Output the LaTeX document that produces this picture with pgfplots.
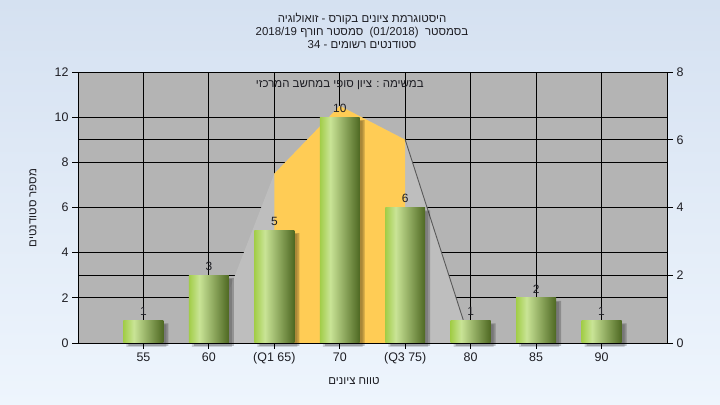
\documentclass[border=0pt]{standalone}
\usepackage{pgfplots}
\pgfplotsset{compat=1.18}
\usepackage{fontspec}
\setmainfont{Liberation Sans}
\newfontfamily\hebfont[Script=Hebrew]{Liberation Sans}
\TeXXeTstate=1
\definecolor{bgtop}{HTML}{D5E1F1}
\definecolor{bgbot}{HTML}{EEF5FD}
\definecolor{plotgray}{HTML}{B4B4B4}
\definecolor{polygray}{HTML}{BEBEBE}
\definecolor{polyyel}{HTML}{FFCC55}
\definecolor{txt}{HTML}{1E1E24}
\definecolor{g1}{HTML}{A2CD48}
\definecolor{g2}{HTML}{C9E496}
\definecolor{g3}{HTML}{4E6822}
\pgfdeclarehorizontalshading{cyl}{100bp}{color(0bp)=(g1); color(25bp)=(g1); color(38bp)=(g2); color(75bp)=(g3); color(100bp)=(g3)}
\pgfplotsset{cylbar/.style={ybar, bar width=0.61, bar shift=0bp, draw=none, shading=cyl},
  shadbar/.style={ybar, bar width=0.61, bar shift=5bp, yshift=-3bp, fill=black, opacity=0.22, draw=none}}
\begin{document}
\begin{tikzpicture}
\shade[top color=bgtop,bottom color=bgbot] (0bp,0bp) rectangle (720bp,405bp);
\node[align=center, font=\fontsize{11.5}{13}\selectfont, text=txt] at (362bp,374bp)
 {{\hebfont\beginR היסטוגרמת ציונים בקורס - זואולוגיה\endR}\\
  2018/19 {\hebfont\beginR סמסטר חורף\endR}\ \ (01/2018)\ \ {\hebfont\beginR בסמסטר\endR}\\
  34 - {\hebfont\beginR סטודנטים רשומים\endR}};
\begin{axis}[
  at={(78bp,62bp)}, anchor=south west, scale only axis,
  width=589bp, height=271bp,
  xmin=-1, xmax=8, ymin=0, ymax=12,
  clip=false,
  axis background/.style={fill=plotgray},
  xtick={0,...,7},
  xticklabels={55,60,(Q1 65),70,(Q3 75),80,85,90},
  ytick={0,2,...,12},
  extra y ticks={3,9}, extra y tick labels={},
  extra y tick style={major tick length=0pt, grid=major},
  grid=major,
  major grid style={black, line width=0.8pt},
  tick align=outside, tick pos=left,
  major tick length=6bp,
  axis line style={black, line width=0.8pt},
  tick style={black, line width=0.8pt},
  /pgf/number format/assume math mode=true,
  ticklabel style={font=\fontsize{12.5}{14}\selectfont, text=txt},
]
\addplot[fill=polygray, draw=none] coordinates {(1,0) (2,7.5) (3,10.5) (4,9) (5,0)} \closedcycle;
\addplot[fill=polyyel, draw=none] coordinates {(2,0) (2,7.5) (3,10.5) (4,9) (4,0)} \closedcycle;
\addplot[draw=black!65, line width=0.9pt] coordinates {(4,9) (5,0)};
\addplot[shadbar] coordinates {(0,1) (1,3) (2,5) (3,10) (4,6) (5,1) (6,2) (7,1)};
\addplot[shadbar, bar shift=3bp, yshift=-1bp, opacity=0.15] coordinates {(0,1) (1,3) (2,5) (3,10) (4,6) (5,1) (6,2) (7,1)};
\addplot[cylbar] coordinates {(0,1)};
\addplot[cylbar] coordinates {(1,3)};
\addplot[cylbar] coordinates {(2,5)};
\addplot[cylbar] coordinates {(3,10)};
\addplot[cylbar] coordinates {(4,6)};
\addplot[cylbar] coordinates {(5,1)};
\addplot[cylbar] coordinates {(6,2)};
\addplot[cylbar] coordinates {(7,1)};
\addplot[draw=none, nodes near coords,
  every node near coord/.append style={font=\fontsize{12}{14}\selectfont, text=txt, yshift=1bp}]
  coordinates {(0,1) (1,3) (2,5) (3,10) (4,6) (5,1) (6,2) (7,1)};
\node[font=\fontsize{11.5}{13}\selectfont, text=txt] at (axis cs:3,11.43) {\hebfont\beginR במשימה : ציון סופי במחשב המרכזי\endR};
\end{axis}
\begin{axis}[
  at={(78bp,62bp)}, anchor=south west, scale only axis,
  width=589bp, height=271bp,
  xmin=-1, xmax=8, ymin=0, ymax=8,
  axis x line=none, axis y line*=right,
  ytick={0,2,...,8},
  tick align=outside, major tick length=6bp,
  axis line style={black, line width=0.8pt},
  tick style={black, line width=0.8pt},
  /pgf/number format/assume math mode=true,
  ticklabel style={font=\fontsize{12.5}{14}\selectfont, text=txt},
]
\addplot[draw=none] coordinates {(0,0) (1,1)};
\end{axis}
\node[font=\fontsize{11.5}{13}\selectfont, text=txt] at (354bp,24bp) {\hebfont\beginR טווח ציונים\endR};
\node[font=\fontsize{11.5}{13}\selectfont, text=txt, rotate=90] at (33bp,197bp) {\hebfont\beginR מספר סטודנטים\endR};
\end{tikzpicture}
\end{document}
